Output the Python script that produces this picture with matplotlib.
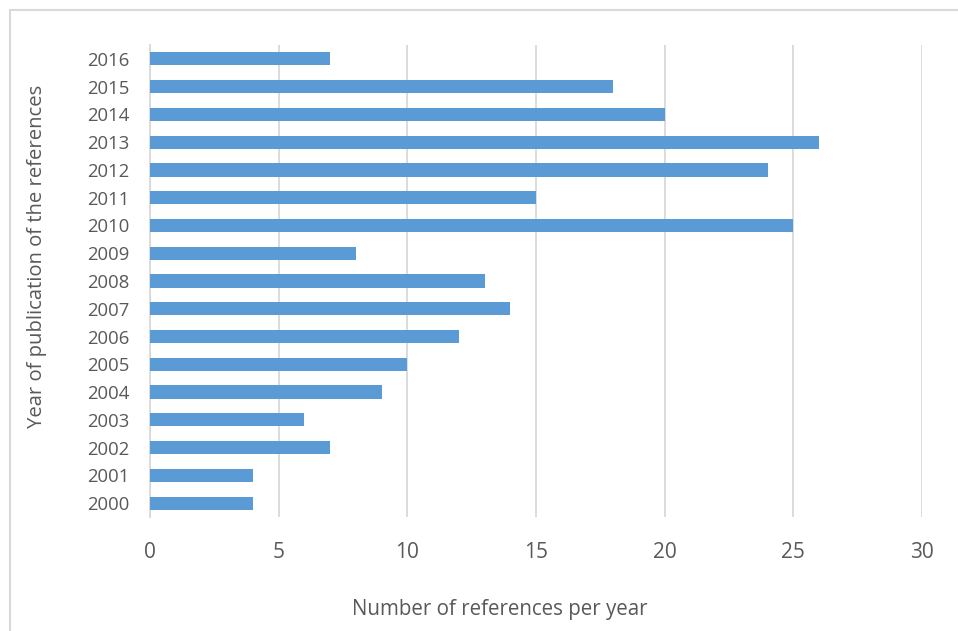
import matplotlib
matplotlib.use("Agg")
import matplotlib.pyplot as plt
from matplotlib.patches import Rectangle

years = ["2000", "2001", "2002", "2003", "2004", "2005", "2006", "2007", "2008",
         "2009", "2010", "2011", "2012", "2013", "2014", "2015", "2016"]
counts = [4, 4, 7, 6, 9, 10, 12, 14, 13, 8, 25, 15, 24, 26, 20, 18, 7]
x_ticks = [0, 5, 10, 15, 20, 25, 30]

plt.rcParams['font.family'] = ['Open Sans', 'DejaVu Sans']
text_color = '#595959'
grid_color = '#d9d9d9'

fig = plt.figure(figsize=(9.58, 6.31), dpi=100)
fig.patches.append(Rectangle((10 / 958, -0.05), 1.0, 1 - 10.5 / 631 + 0.05,
                             transform=fig.transFigure, fill=False,
                             edgecolor='#d9d9d9', linewidth=1.5))

ax = fig.add_axes([150 / 958, 1 - 517 / 631, (922 - 150) / 958, (517 - 45) / 631])
pos = range(len(years))
ax.barh(pos, counts, height=0.476, color='#5b9bd5', zorder=3)

ax.set_xlim(0, 30)
ax.set_ylim(-0.5, len(years) - 0.5)
ax.set_xticks(x_ticks)
ax.set_xticklabels([str(t) for t in x_ticks])
ax.set_yticks(list(pos))
ax.set_yticklabels(years)

ax.grid(axis='x', color=grid_color, linewidth=1.3, zorder=0)
for s in ['top', 'right', 'bottom']:
    ax.spines[s].set_visible(False)
ax.spines['left'].set_color(grid_color)
ax.spines['left'].set_linewidth(1.3)

ax.tick_params(axis='x', length=0, pad=18, labelsize=15, labelcolor=text_color)
ax.tick_params(axis='y', length=0, pad=15, labelsize=13.3, labelcolor=text_color)

ax.set_xlabel('Number of references per year', fontsize=14.8, color=text_color)
ax.set_ylabel('Year of publication of the references', fontsize=14.6, color=text_color)
ax.xaxis.label.set_va('center')
ax.yaxis.label.set_va('center')
ax.xaxis.set_label_coords(0.453, -0.195)
ax.yaxis.set_label_coords(-0.146, 0.553)

fig.savefig('out.png', dpi=100)
